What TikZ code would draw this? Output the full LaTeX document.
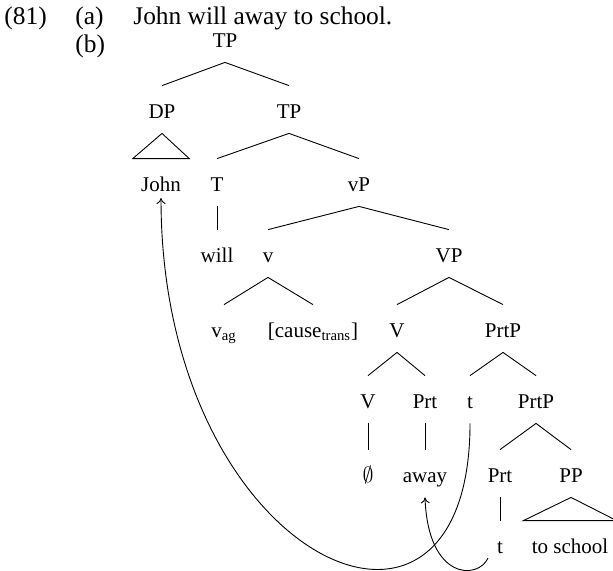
\documentclass[tikz,border=0pt]{standalone}
\usepackage{fontspec}
\setmainfont{Liberation Serif}
\usetikzlibrary{calc,arrows.meta}
\begin{document}
\begin{tikzpicture}[x=0.5pt,y=-0.5pt,
  lab/.style={anchor=base, inner sep=0pt, font=\fontsize{10.5}{12}\selectfont,
              text height=16pt, text depth=7.5pt},
  big/.style={anchor=base west, inner sep=0pt, font=\fontsize{12.7}{15}\selectfont},
  edge/.style={line width=0.45pt},
  mv/.style={line width=0.45pt, -{To[length=3pt,width=4.5pt]}}]
\useasboundingbox (0,0) rectangle (613,570);

% example header
\node[big] (num) at (4,24) {(81)};
\node[big] (la) at (75,24) {(a)};
\node[big] (sent) at (133,24) {John will away to school.};
\node[big] (lb) at (75,52) {(b)};

% tree nodes
\node[lab] (tp) at (225,47) {TP};
\node[lab] (dp) at (162,118) {DP};
\node[lab] (tp2) at (289,118) {TP};
\node[lab] (john) at (161,191) {John};
\node[lab] (t) at (217,191) {T};
\node[lab] (vp) at (359,191) {vP};
\node[lab] (will) at (217,262) {will};
\node[lab] (v) at (268,262) {v};
\node[lab] (VP) at (449,262) {VP};
\node[lab] (vag) at (224,337) {v\textsubscript{ag}};
\node[lab] (cause) at (313,337) {[cause\textsubscript{trans}]};
\node[lab] (V) at (397,337) {V};
\node[lab] (prtp) at (503,337) {PrtP};
\node[lab] (V2) at (368,408) {V};
\node[lab] (prt) at (425,408) {Prt};
\node[lab] (tr1) at (470,408) {t};
\node[lab] (prtp2) at (536,408) {PrtP};
\node[lab] (null) at (368,482) {$\emptyset$};
\node[lab] (away) at (425,482) {away};
\node[lab] (prt2) at (500,482) {Prt};
\node[lab] (pp) at (571,482) {PP};
\node[lab] (tr2) at (500,553) {t};
\node[lab] (school) at (570,553) {to school};

% branches
\draw[edge] (dp.north) -- (tp.south) -- (tp2.north);
\draw[edge] (dp.south) -- ($(john.north west)+(-8,0)$) -- ($(john.north east)+(8,0)$) -- cycle;
\draw[edge] (t.north) -- (tp2.south) -- (vp.north);
\draw[edge] (t.south) -- (will.north);
\draw[edge] (v.north) -- (vp.south) -- (VP.north);
\draw[edge] (vag.north) -- (v.south) -- (cause.north);
\draw[edge] (V.north) -- (VP.south) -- (prtp.north);
\draw[edge] (V2.north) -- (V.south) -- (prt.north);
\draw[edge] (tr1.north) -- (prtp.south) -- (prtp2.north);
\draw[edge] (V2.south) -- (null.north);
\draw[edge] (prt.south) -- (away.north);
\draw[edge] (prt2.north) -- (prtp2.south) -- (pp.north);
\draw[edge] (prt2.south) -- (tr2.north);
\draw[edge] (pp.south) -- ($(school.north west)+(-8,0)$) -- ($(school.north east)+(8,0)$) -- cycle;

% movement arrows
\draw[mv] (tr1.south) .. controls +(0,277) and +(0,362) .. ($(john.base)+(0,7)$);
\draw[mv] ($(tr2.base)+(-12,5)$) .. controls +(-10,22) and +(3,83) .. (away.south);
\end{tikzpicture}
\end{document}
